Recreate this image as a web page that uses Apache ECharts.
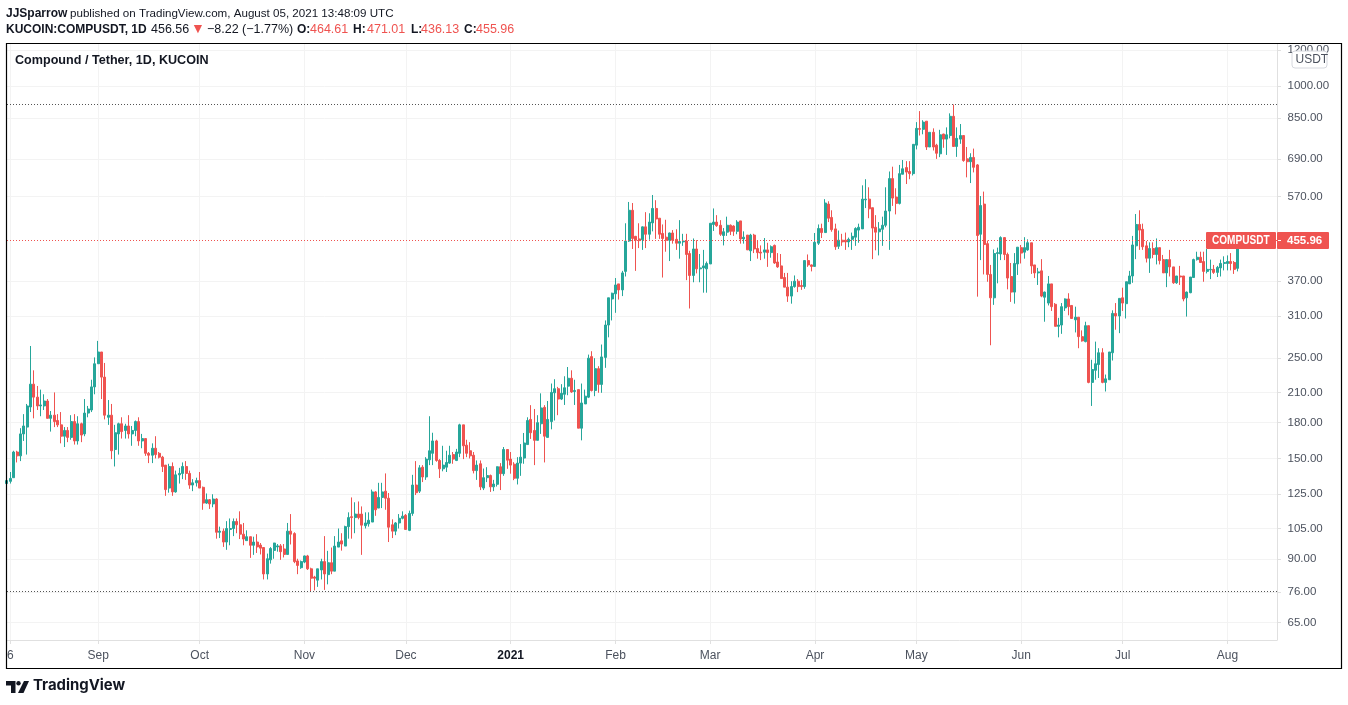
<!DOCTYPE html>
<html>
<head>
<meta charset="utf-8">
<title>COMPUSDT</title>
<script src="https://cdn.jsdelivr.net/npm/echarts@6/dist/echarts.min.js"></script>
<style>
	html, body { margin: 0; padding: 0; background: #fff; }
	#tuxing { width: 1348px; height: 705px; }
</style>
</head>
<body>
<div id="tuxing"></div>
<script>
	var myChart = echarts.init(document.getElementById('tuxing'));
	var font = '"Liberation Sans", Arial, sans-serif';
	var upColor = '#26a69a';
	var downColor = '#ef5350';
	var dayMs = 86400000;

	// daily candles from 5 Aug 2020: open, close, low, high
	var rows = [
		[132,134,131,135],[133.5,135.5,132,140],[136,155,136,156],[155,152,147,156],[152,170,148,175],
		[170,177,164,188],[176,196,153,198],[195,219,190,266],[219,205,184,235],[205,196,192,217],
		[196,197,186,213],[196,201,192,208],[201,184,184,203],[184,187,172,191],[187,181,176,210],
		[182,178,176,188],[178,168,162,190],[168,173,159,176],[173,167,163,176],[167,181,165,187],
		[181,164,161,188],[164,179,161,186],[179,169,163,180],[170,189,168,203],[189,193,185,196],
		[192,216,190,224],[216,243,208,251],[243,258,243,273],[258,227,203,258],[227,187,183,244],
		[185,187,178,202],[187,156,149.5,198],[157,171,144,178],[170,179,153,180],[179,172,166,185],
		[173,177,166,179],[177,170,166,187],[170,173,160,177],[173,181,168,182],[181,164,160,185],
		[164,166,158,170],[166,154,152,166],[154,152.5,146.5,155],[152.5,158,146.5,162],[158,153,150,168],
		[154,151,150,155],[151,144,140,152],[145,128,124,145],[129,144,126,146],[144,126.5,124,147],
		[126.5,138,126,141],[138,139,132,143],[139,144,135,147],[144,139,134.5,148],[139,131,128.5,141],
		[131,132.5,127,135],[132.5,134,130,136],[134,129,129,140],[129.5,119.5,115.5,130],[119.5,121.6,119,125.5],
		[121.6,119,116,122],[119,122,117,125],[122,103,99.7,122.5],[103,103.6,100,106],[103.6,98,95.6,105],
		[98,105,94.2,109],[104.5,105,96.4,110.5],[105,108.8,101,110.5],[108.8,107,102.5,110.5],[107,102,99.5,114.6],
		[102,99.5,96.4,108],[98.7,100.7,98.7,104],[100.7,96.4,90.4,100.7],[96.4,98,91.8,100.7],[98,95.6,92.7,102],
		[96.5,95,92,97.5],[95.3,83.3,81,95.5],[83.3,90,81,92.4],[89.5,94.8,87.8,95.5],[93.9,97.5,90,97.6],
		[95.6,96.1,93.3,97],[96.1,93.3,89.5,97],[94.6,92,90.6,97],[92,103.6,92,108],[103.6,102,96.8,113],
		[102.3,88.7,88,103],[89,87,83.2,90],[86,88.7,85.5,89.2],[88.5,91.3,88,91.5],[91.3,85.5,85,91.8],
		[85.5,81.5,76,86],[82,81.5,76.6,82.5],[80.7,85.5,78,85.5],[85,88.7,81,90],[88.7,83.3,76.8,101],
		[83,88.2,79,93.7],[88.2,84.5,83.2,95.3],[84.5,96,84.5,101],[95.5,98,95.5,105],[98.6,97,93.8,102.5],
		[96,106,96,106.5],[106,111,99.7,114],[111.5,111,99.7,123],[111,113,102.5,120],[113,111,110,120.5],
		[113,106.8,91.8,117.5],[106.5,108,105,114],[107.5,109.5,106,114],[108.5,126.5,108.5,128],[126.5,115.5,112,127],
		[116.5,123,116.5,132.5],[123,126.5,116.5,132.5],[127,122.5,115.5,139],[122.5,105.7,98,125.8],[107,103.6,100,110],
		[103.6,108,101.5,108.5],[108,110.6,105,113],[110.6,111.8,110,114.6],[112.3,104.5,104.5,113],[104,113.4,103.6,115],
		[113.4,131,112,138],[131,126,124.5,148],[127,143,125.8,145],[143.5,136.5,133,145],[136.5,149.5,134.5,151],
		[149,156,145,186],[154,164,145,171],[164,148.5,147.5,165],[148.5,142.3,135.8,149.5],[142.3,145,140.5,160],
		[143.5,147,140,156],[146.5,152.5,146,160],[153,149.5,146,155],[148.5,155,148,157.5],[154,178,151,179],
		[178,160,149.5,178],[160.5,154,151,165],[156,152,150,163],[152.5,141,139,155],[141,145,134.5,148.5],
		[146,129.8,127.7,148.5],[129,136,127.7,142.5],[136,137.5,133,143.5],[137.5,129.8,126.5,138.2],[129.8,131.7,127,134.5],
		[131.5,143.8,130,144],[143.8,138.8,127.7,146.5],[138.8,157,137.3,159],[157,148.7,142.3,157],[149.5,145,138.8,155],
		[145.7,135.6,134.3,147.2],[135.6,146.5,131.4,151],[146.5,151,137.3,161.4],[150.3,162.3,146,170.8],[161,182,161,185],
		[183,171,165.7,196.8],[173,164.5,145,193],[164.5,180,164.5,187],[179,194,170,209],[194.6,168,147,196.8],
		[167,183,167,201],[181,210,174,219.7],[209.6,214,182,224.6],[214,203,187,216],[203,209,202,219],
		[208,215,197,228],[216.8,225.7,207,239],[225.7,210.5,209.5,235],[211,212,197,224],[213,175,175,213],
		[175,199,164.5,219.7],[198,206,198,213],[205,250,204,254.6],[252,212,211,259],[212,237,206,250],
		[237,218.7,209.6,240],[218.7,251.6,209.6,268],[251,296,238,303],[296,340,278,340],[338,348,303,349],
		[347,363,315,376],[365,354,337,365],[354,386,343,390],[389,454,379,497],[454,531,452,554],
		[531,460,436,551],[465,456,390,466],[459,455,438,497],[457,488,434,489],[488,470,438,526],
		[470,500,457,523],[498,536,477,574],[536,508,459,559],[510,470,459,510],[472,460,377,494],
		[463,456,430,506],[456,473,410,474],[473,456,448,480],[458,449,434,482],[449,453,415,505],
		[452,454,443,471],[454,424,372,471],[426,381,322,432],[381,436,368,460],[436,394,385,456],
		[394,396,368,425],[396,400,349,434],[394,405,349,409],[404,497,404,497],[494,500,478,536],
		[500,491,488,518],[492,470,466,505],[467,476,444,485],[475,492,466,514],[492,477,468,494],
		[490,477,466,492],[477,500,470,505],[503,459,448,503],[459,463,448,477],[468,434,434,468],
		[432,468,410,471],[468,436,427,471],[437,428,415,456],[429,427,412,444],[429,434,415,461],
		[434,428,398,450],[428,441,417,444],[444,406,404,446],[408,398,396,427],[400,375,375,425],
		[377,359,359,386],[359,343,333,386],[343,360,330,370],[360,370,358,381],[370,360,350,374],
		[362,360,354,372],[360,411,356,411],[411,402,398,424],[402,399,389,403],[399,451,399,473],
		[449,484,445,494],[484,474,461,496],[474,551,474,562],[548,510,500,556],[512,481,476,531],
		[483,441,434,496],[442,456,436,479],[456,452,443,471],[456,452,434,474],[452,458,440,462],
		[458,465,434,474],[463,484,443,487],[480,487,450,496],[483,562,483,603],[560,562,537,622],
		[562,535,510,597],[538,485,414,538],[487,475,433,518],[476,483,422,500],[482,492,443,514],
		[492,529,487,597],[529,624,434,647],[624,565,543,663],[568,550,520,594],[550,640,547,669],
		[638,656,638,686],[660,645,607,682],[647,640,622,682],[640,743,634,743],[740,806,724,832],
		[805,802,777,880],[802,832,782,840],[836,733,722,836],[733,790,733,790],[790,733,720,806],
		[740,710,690,745],[708,780,696,800],[783,763,730,784],[763,780,704,810],[777,857,766,870],
		[857,735,735,910],[735,766,697,810],[763,777,745,824],[777,684,680,777],[690,680,628,733],
		[680,695,610,710],[695,661,644,727],[669,467,342,672],[470,544,412,571],[548,446,383,584],
		[448,383,369,455],[383,340,267,402],[340,426,328,435],[426,428,366,439],[425,462,412,465],
		[462,424,412,463],[424,376,355,428],[379,350,333,406],[350,405,330,427],[404,440,382,440],
		[439,427,405,445],[429,439,415,463],[434,450,432,458],[450,400,384,450],[402,386,376,402],
		[386,388,363,396],[390,343,341,414],[341,350,301,351],[331,365,327,380],[365,325,318,365],
		[329,294,294,331],[294,296,278,307],[296,325,283,331],[323,338,318,339],[338,325,311,348],
		[327,306,306,327],[304,308,285,325],[308,279,263,308],[279,273,272,288],[272,295,271,301],
		[295,221,220,295],[221,236,196,248],[235,243,224,272],[242,257,226,263],[257,221,220,263],
		[221,225,211,230],[224,258,224,258],[257,314,247,319],[314,310,289,331],[310,339,284,339],
		[340,331,318,358],[330,369,306,369],[365,380,365,390],[380,445,367,466],[443,494,414,521],
		[494,480,434,531],[482,441,434,496],[443,416,407,454],[416,437,386,451],[437,424,416,451],
		[424,439,403,460],[439,411,403,439],[413,386,386,423],[386,413,359,413],[413,398,379,434],
		[398,367,365,398],[367,380,365,380],[380,378,363,400],[380,338,334,380],[340,350,309,351],
		[349,378,348,378],[377,413,377,415],[413,418,411,430],[418,407,407,430],[409,389,369,430],
		[389,393,385,436],[392,393,374,413],[393,387,384,402],[387,397,378,400],[396,405,379,413],
		[405,407,391,420],[405,409,391,422],[409,405,391,427],[407,393,384,410],[395,455.96,389,456]
	];

	var startTime = Date.UTC(2020, 7, 5);
	var candles = [];
	for (var i = 0; i < rows.length; i++) {
		candles.push([i].concat(rows[i]));
	}

	// x axis counts days from the first candle
	function dayIndex(y, m, d) {
		return (Date.UTC(y, m, d) - startTime) / dayMs;
	}

	var priceTicks = [1200, 1000, 850, 690, 570, 370, 310, 250, 210, 180, 150, 125, 105, 90, 76, 65];
	var monthTicks = [
		dayIndex(2020, 7, 6), dayIndex(2020, 8, 1), dayIndex(2020, 9, 1), dayIndex(2020, 10, 1),
		dayIndex(2020, 11, 1), dayIndex(2021, 0, 1), dayIndex(2021, 1, 1), dayIndex(2021, 2, 1),
		dayIndex(2021, 3, 1), dayIndex(2021, 4, 1), dayIndex(2021, 5, 1), dayIndex(2021, 6, 1),
		dayIndex(2021, 7, 1)
	];
	var monthNames = ['Jan', 'Feb', 'Mar', 'Apr', 'May', 'Jun', 'Jul', 'Aug', 'Sep', 'Oct', 'Nov', 'Dec'];

	// header texts, placed one by one
	function headerText(left, top, text, fill, style) {
		return { type: 'text', z: 60, left: left, top: top, style: { text: text, fill: fill, font: style + ' ' + font } };
	}

	var option = {
		animation: false,
		backgroundColor: '#fff',
		textStyle: { fontFamily: font },
		grid: { left: 7, top: 44, width: 1270, height: 596, containLabel: false },
		xAxis: {
			type: 'value',
			min: 0.024,
			max: 375.65,
			axisLine: { onZero: false, lineStyle: { color: '#e0e0e0' } },
			axisTick: { length: 4, lineStyle: { color: '#e0e0e0' }, customValues: monthTicks },
			minorTick: { show: false },
			splitLine: { show: true, lineStyle: { color: '#f3f3f3' } },
			axisLabel: {
				customValues: monthTicks,
				color: '#4c525e',
				fontSize: 12,
				fontFamily: font,
				margin: 9.5,
				hideOverlap: false,
				showMinLabel: true,
				formatter: function(value) {
					var d = new Date(startTime + value * dayMs);
					if (d.getUTCDate() != 1) {
						return String(d.getUTCDate());
					}
					if (d.getUTCMonth() == 0) {
						return '{b|' + d.getUTCFullYear() + '}';
					}
					return monthNames[d.getUTCMonth()];
				},
				rich: { b: { fontWeight: 'bold', color: '#131722', fontSize: 12, fontFamily: font } }
			}
		},
		yAxis: {
			type: 'log',
			logBase: 10,
			position: 'right',
			min: 59.5,
			max: 1238.6,
			axisLine: { show: true, lineStyle: { color: '#e0e0e0' } },
			axisTick: { show: true, length: 4, lineStyle: { color: '#e0e0e0' }, customValues: priceTicks },
			minorTick: { show: false },
			minorSplitLine: { show: false },
			splitLine: { show: true, lineStyle: { color: '#f3f3f3' } },
			axisLabel: {
				customValues: priceTicks,
				color: '#4c525e',
				fontSize: 11.5,
				fontFamily: font,
				margin: 10.5,
				padding: [2, 0, 0, 0],
				showMinLabel: true,
				showMaxLabel: true,
				formatter: function(value) {
					return Number(value).toFixed(2);
				}
			}
		},
		series: [{
			type: 'candlestick',
			data: candles,
			encode: { x: 0, y: [1, 2, 3, 4] },
			barWidth: 2.5,
			clip: true,
			itemStyle: {
				color: upColor,
				color0: downColor,
				borderColor: upColor,
				borderColor0: downColor,
				borderWidth: 1
			},
			markLine: {
				silent: true,
				symbol: 'none',
				animation: false,
				label: { show: false },
				data: [
					{ yAxis: 910, lineStyle: { color: '#555', type: [1, 2], width: 1 } },
					{ yAxis: 76.1, lineStyle: { color: '#555', type: [1, 2], width: 1 } },
					{ yAxis: 455.96, lineStyle: { color: downColor, type: [1, 2], width: 1 } }
				]
			}
		}],
		graphic: [
			// frame around the pane
			{ type: 'rect', z: 50, silent: true, shape: { x: 6.5, y: 43.5, width: 1335, height: 625 },
				style: { fill: 'none', stroke: '#000', lineWidth: 1.2 } },
			headerText(6, 7.5, 'JJSparrow', '#131722', 'bold 12px'),
			headerText(70, 7.5, 'published on TradingView.com, August 05, 2021 13:48:09 UTC', '#131722', '11.6px'),
			headerText(6, 23.5, 'KUCOIN:COMPUSDT, 1D', '#131722', 'bold 12px'),
			headerText(151, 23.5, '456.56', '#131722', '12.5px'),
			headerText(191, 22.5, '▼', downColor, '14px'),
			headerText(207, 23.5, '−8.22 (−1.77%)', '#131722', '12.5px'),
			headerText(297, 23.5, 'O:', '#131722', 'bold 12px'),
			headerText(310, 23.5, '464.61', downColor, '12.5px'),
			headerText(353, 23.5, 'H:', '#131722', 'bold 12px'),
			headerText(367, 23.5, '471.01', downColor, '12.5px'),
			headerText(411, 23.5, 'L:', '#131722', 'bold 12px'),
			headerText(421, 23.5, '436.13', downColor, '12.5px'),
			headerText(464, 23.5, 'C:', '#131722', 'bold 12px'),
			headerText(476, 23.5, '455.96', downColor, '12.5px'),
			headerText(15, 54.5, 'Compound / Tether, 1D, KUCOIN', '#131722', 'bold 12.6px'),
			// currency badge
			{ type: 'rect', z: 60, silent: true, shape: { x: 1292, y: 51, width: 35, height: 17, r: 3 },
				style: { fill: '#fff', stroke: '#d6d8de', lineWidth: 1 } },
			headerText(1295.5, 54, 'USDT', '#4c525e', '12px'),
			// last price tag
			{ type: 'rect', z: 60, silent: true, shape: { x: 1206, y: 232, width: 70, height: 17, r: 1 }, style: { fill: downColor } },
			{ type: 'rect', z: 60, silent: true, shape: { x: 1277, y: 232, width: 52, height: 17, r: 1 }, style: { fill: downColor } },
			{ type: 'text', z: 61, x: 1212, y: 234.5, scaleX: 0.84, style: { text: 'COMPUSDT', fill: '#fff', font: 'bold 12px ' + font } },
			{ type: 'rect', z: 61, silent: true, shape: { x: 1278, y: 240, width: 3, height: 1 }, style: { fill: '#fff' } },
			{ type: 'text', z: 61, left: 1287, top: 234.5, style: { text: '455.96', fill: '#fff', font: 'bold 11.5px ' + font } },
			// TradingView mark
			{ type: 'polygon', z: 60, silent: true, shape: { points: [[6, 681], [15.5, 681], [15.5, 693], [11, 693], [11, 685.5], [6, 685.5]] }, style: { fill: '#131722' } },
			{ type: 'circle', z: 60, silent: true, shape: { cx: 18.5, cy: 683.2, r: 2.2 }, style: { fill: '#131722' } },
			{ type: 'polygon', z: 60, silent: true, shape: { points: [[24, 681], [29, 681], [23.5, 693], [18, 693]] }, style: { fill: '#131722' } },
			{ type: 'text', z: 60, left: 33, top: 678.5, style: { text: 'TradingView', fill: '#131722', font: 'bold 14.9px Inter, ' + font } }
		]
	};
	myChart.setOption(option);
</script>
</body>
</html>
